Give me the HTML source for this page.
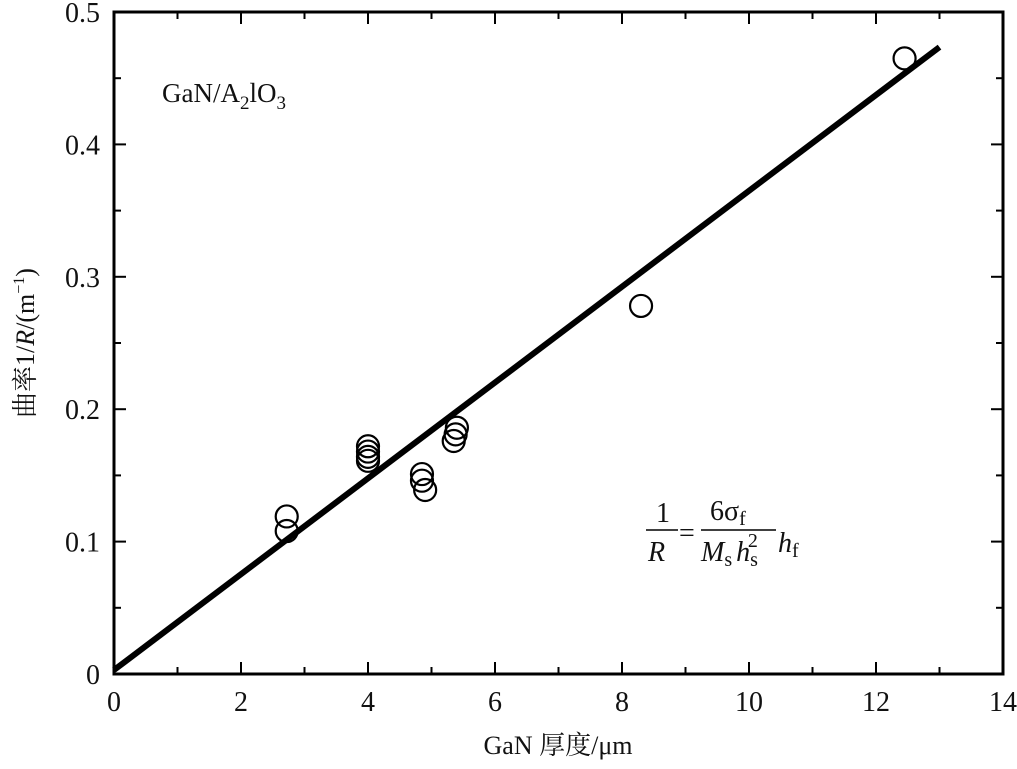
<!DOCTYPE html>
<html><head><meta charset="utf-8"><style>
body{margin:0;background:#fff}
svg text{font-family:"Liberation Serif","Noto Serif CJK SC",serif;fill:#111}
</style></head><body>
<svg id="chart" width="1017" height="764" xmlns="http://www.w3.org/2000/svg">
<rect x="114" y="12" width="889" height="662" fill="none" stroke="#000" stroke-width="3"/>
<g id="ticks"></g>
<g id="marks"></g>
<text x="162" y="102" font-size="27">GaN/A<tspan font-size="19" dy="7">2</tspan><tspan dy="-7">lO</tspan><tspan font-size="19" dy="7">3</tspan></text>
<g font-size="28">
<text x="656" y="522">1</text>
<line x1="646" y1="530" x2="678" y2="530" stroke="#000" stroke-width="1.5"/>
<text x="648" y="561" font-style="italic">R</text>
<text x="679" y="542">=</text>
<text x="710" y="520">6σ<tspan font-size="20" dy="5">f</tspan></text>
<line x1="701" y1="530" x2="776" y2="530" stroke="#000" stroke-width="1.5"/>
<text x="701" y="561" font-style="italic">M<tspan font-style="normal" font-size="20" dy="5">s</tspan><tspan dx="4" dy="-5">h</tspan><tspan font-style="normal" font-size="20" dy="5">s</tspan><tspan font-style="normal" font-size="20" dx="-10" dy="-19">2</tspan></text>
<text x="778" y="552" font-style="italic">h<tspan font-style="normal" font-size="20" dy="5">f</tspan></text>
</g>
<text x="558" y="754" font-size="26" text-anchor="middle">GaN 厚度/μm</text>
<text transform="translate(34,343) rotate(-90)" font-size="26" text-anchor="middle">曲率1/<tspan font-style="italic">R</tspan>/(m<tspan font-size="16" dy="-10">−1</tspan><tspan dy="10">)</tspan></text>
</svg>
<script>
const xTicks=[0,2,4,6,8,10,12,14];
const yTicks=[0,0.1,0.2,0.3,0.4,0.5];
const yTickLabels=["0","0.1","0.2","0.3","0.4","0.5"];
const xData=[2.72,2.72,4.0,4.0,4.0,4.0,4.85,4.85,4.9,5.4,5.38,5.35,8.3,12.45];
const yData=[0.119,0.108,0.172,0.168,0.164,0.161,0.151,0.146,0.139,0.186,0.181,0.176,0.278,0.465];
const fitX=[0,13];
const fitY=[0.003,0.4735];
const NS="http://www.w3.org/2000/svg";
const X0=114,X1=1003,Y0=674,Y1=12;
const sx=v=>X0+(v-0)/(14-0)*(X1-X0);
const sy=v=>Y0-(v-0)/(0.5-0)*(Y0-Y1);
function mk(tag,attrs,parent){const e=document.createElementNS(NS,tag);for(const k in attrs)e.setAttribute(k,attrs[k]);parent.appendChild(e);return e;}
const tg=document.getElementById('ticks'),mg=document.getElementById('marks');
for(let v=0;v<=14;v+=1){const x=sx(v);const L=(v%2===0)?12:7;
 let a=mk('line',{x1:x,y1:Y0,x2:x,y2:Y0-L,stroke:'#000','stroke-width':2},tg);
 
 let b=mk('line',{x1:x,y1:Y1,x2:x,y2:Y1+L,stroke:'#000','stroke-width':2},tg);
 }
for(let i=0;i<=10;i++){const v=i*0.05;const y=sy(v);const L=(i%2===0)?12:7;
 let a=mk('line',{x1:X0,y1:y,x2:X0+L,y2:y,stroke:'#000','stroke-width':2},tg);
 
 let b=mk('line',{x1:X1,y1:y,x2:X1-L,y2:y,stroke:'#000','stroke-width':2},tg);
 }
xTicks.forEach(v=>{const t=mk('text',{x:sx(v),y:711,'font-size':28,'text-anchor':'middle'},tg);t.textContent=v;
 });
yTicks.forEach((v,i)=>{const t=mk('text',{x:100,y:sy(v)+10,'font-size':28,'text-anchor':'end'},tg);t.textContent=yTickLabels[i];
 });
const fl=mk('line',{x1:sx(fitX[0]),y1:sy(fitY[0]),x2:sx(fitX[1]),y2:sy(fitY[1]),stroke:'#000','stroke-width':6},mg);


xData.forEach((v,i)=>{const c=mk('circle',{cx:sx(v),cy:sy(yData[i]),r:11,fill:'none',stroke:'#000','stroke-width':2.2},mg);
 
 });
</script>
</body></html>
